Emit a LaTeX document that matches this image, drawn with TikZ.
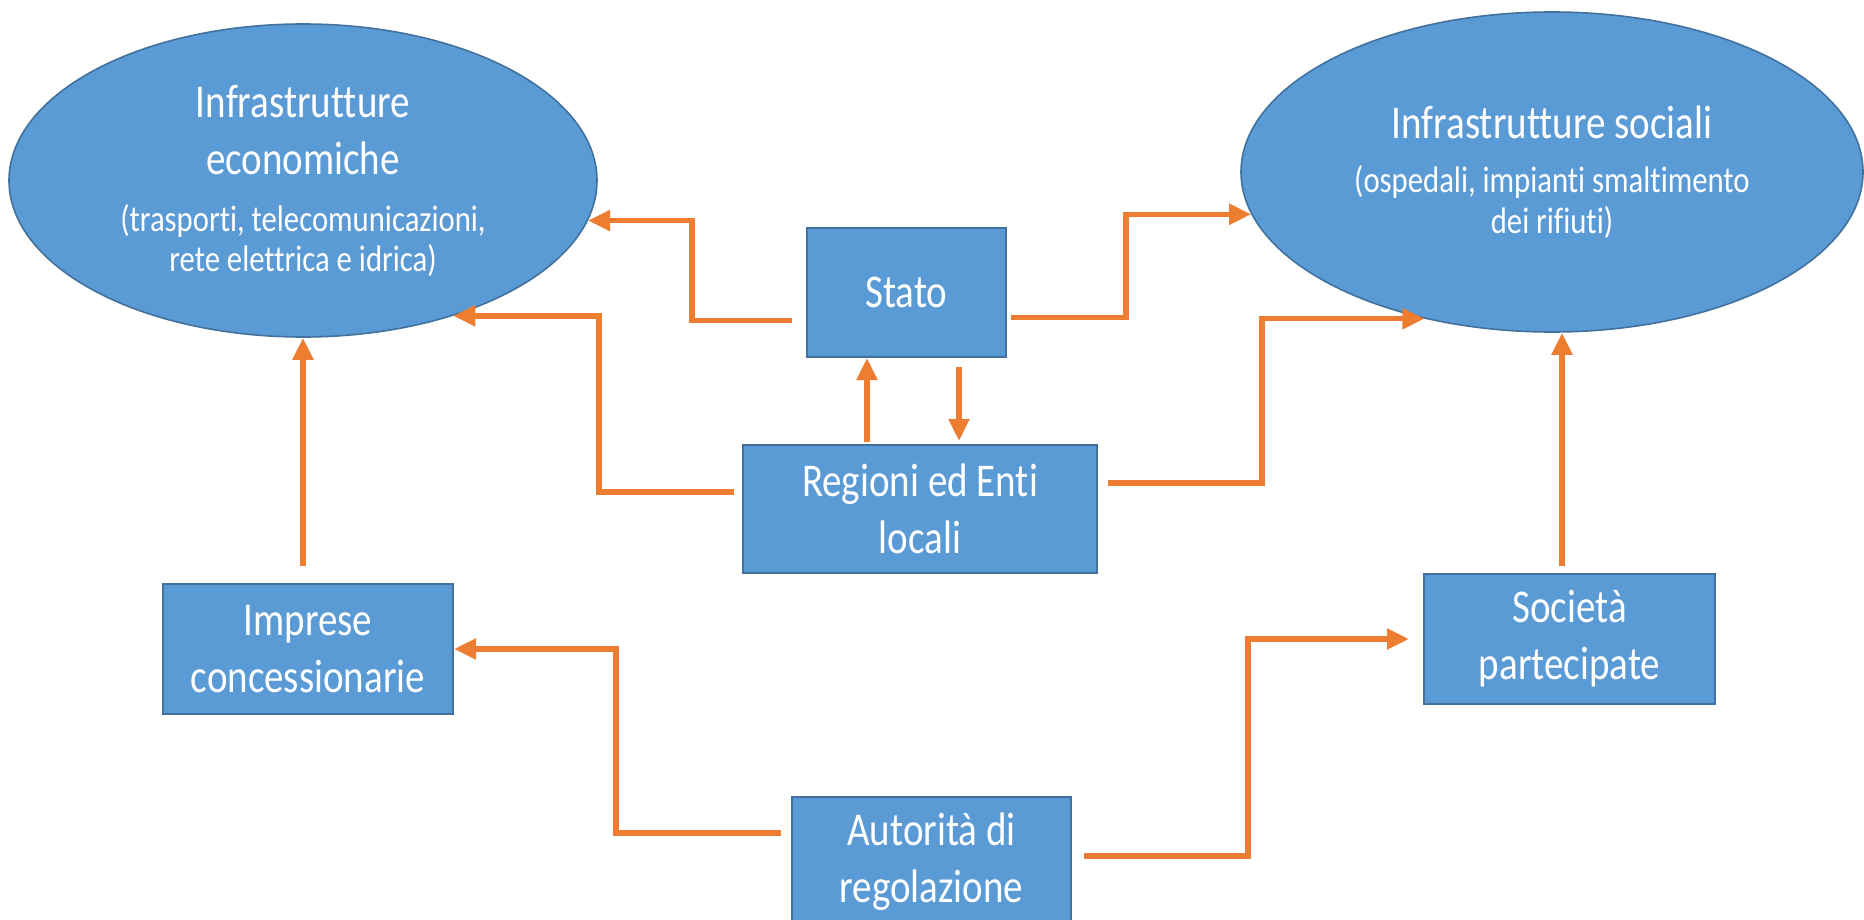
\documentclass[tikz,border=0pt]{standalone}
\usepackage{fontspec}
\setmainfont{Carlito}[FakeStretch=0.83,Ligatures=NoCommon]
\usepackage{tikz}
\usetikzlibrary{arrows.meta,shapes.geometric,calc}
\definecolor{boxblue}{HTML}{5B9BD5}
\definecolor{edgeblue}{HTML}{41719C}
\definecolor{arrorange}{HTML}{ED7D31}
\newcommand{\piccolo}{\fontsize{18.5}{20}\selectfont}

\begin{document}
\begin{tikzpicture}[x=0.5pt,y=-0.5pt,
  ent/.style={draw=edgeblue,line width=1pt,fill=boxblue,text=white,align=center,
    inner sep=0pt,font=\fontsize{23.5}{28.5}\selectfont},
  infra/.style={ent,ellipse,line width=0.8pt},
  flow/.style={draw=arrorange,line width=2.7pt,-{Triangle[length=11pt,width=10pt]}}]
  \useasboundingbox (0,0) rectangle (1864,920);
  \node [infra,minimum width=294pt,minimum height=156.5pt] (IE) at (303,180.5)
    {Infrastrutture\\economiche\\{\piccolo (trasporti, telecomunicazioni,}\\[-8.5pt]{\piccolo rete elettrica e idrica)}};
  \node [infra,minimum width=311pt,minimum height=160pt] (IS) at (1552,172)
    {Infrastrutture sociali\\[-1.5pt]{\piccolo (ospedali, impianti smaltimento}\\[-8pt]{\piccolo dei rifiuti)}};
  \node [ent,minimum width=99.5pt,minimum height=64.5pt] (ST) at (906.5,292.5) {Stato};
  \node [ent,minimum width=177pt,minimum height=64pt] (RE) at (920,509) {Regioni ed Enti\\locali};
  \node [ent,minimum width=145pt,minimum height=65pt] (IC) at (308,649) {Imprese\\concessionarie};
  \node [ent,minimum width=145.5pt,minimum height=65pt] (SP) at (1569.5,639) {Società\\partecipate};
  \node [ent,minimum width=139.5pt,minimum height=65pt] (AR) at (931.5,862) {Autorità di\\regolazione};
  \draw [flow] ($(ST.west)+(-14,28)$) -- ++(-100,0) |- (IE.-8);
  \draw [flow] ($(ST.east)+(4,25)$) -- ++(115,0) |- (IS.188);
  \draw [flow] ($(RE.west)+(-8,-17)$) -- ++(-135,0) |- (IE.-42);
  \draw [flow] ($(RE.east)+(10,-26)$) -- ++(154,0) |- (IS.229);
  \draw [flow] ($(RE.north)+(-53,-2)$) -- ($(ST.south)+(-39.5,0)$);
  \draw [flow] ($(ST.south)+(52.5,9)$) -- ($(RE.north)+(39,-3)$);
  \draw [flow] ($(IC.north)+(-5,-17)$) -- (IE.south);
  \coordinate (SPtop) at ($(SP.north)+(-7.5,-7)$);
  \draw [flow] (SPtop) -- (SPtop |- IS.south);
  \draw [flow] ($(AR.west)+(-10,-29)$) -- ++(-165,0) |- (IC.east);
  \draw [flow] ($(AR.east)+(12,-6)$) -- ++(164,0) |- ($(SP.west)+(-14,0)$);
\end{tikzpicture}
\end{document}
